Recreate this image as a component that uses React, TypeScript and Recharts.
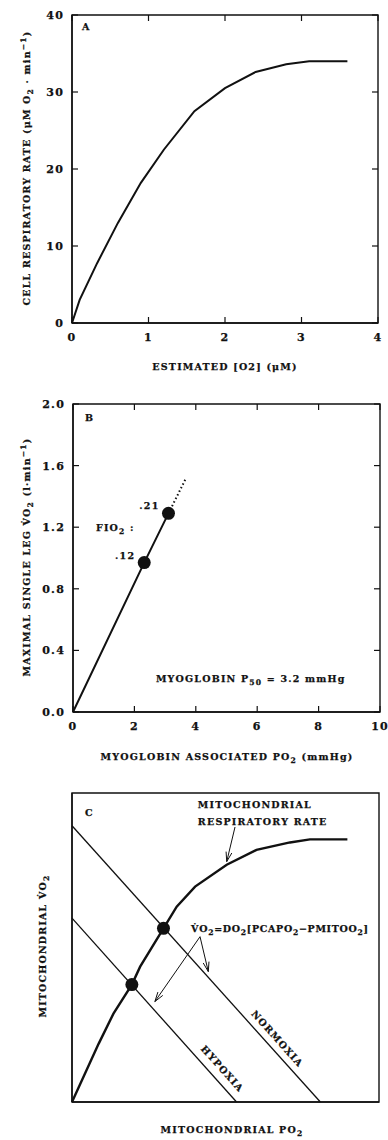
import React from 'react'
import { ComposedChart, Line, Scatter, XAxis, YAxis, ReferenceDot, ReferenceLine, ReferenceArea, Label } from 'recharts'

// panel A: cell respiratory rate vs estimated O2
const aO2 = [0, 0.1, 0.33, 0.6, 0.9, 1.2, 1.6, 2.0, 2.4, 2.8, 3.1, 3.6]
const aRate = [0, 3, 7.8, 13, 18.2, 22.5, 27.5, 30.5, 32.6, 33.6, 34.0, 34.0]
const aXTicks = [0, 1, 2, 3, 4]
const aYTicks = [0, 10, 20, 30, 40]

// panel B: leg VO2 vs myoglobin PO2
const bLinePo2 = [0, 2.32, 3.11]
const bLineVo2 = [0, 0.97, 1.29]
const bExtPo2 = [3.11, 3.66]
const bExtVo2 = [1.29, 1.51]
const bDotPo2 = [2.32, 3.11]
const bDotVo2 = [0.97, 1.29]
const bFio2 = ['.12', '.21']
const bXTicks = [0, 2, 4, 6, 8, 10]
const bYTicks = [0, 0.4, 0.8, 1.2, 1.6, 2.0]

// panel C: schematic, arbitrary units
const cCurvePo2 = [0, 0.87, 1.35, 1.95, 2.22, 2.98, 3.41, 4.01, 5.04, 6.01, 7.1, 7.75, 8.97]
const cCurveVo2 = [0, 1.89, 2.86, 3.8, 4.38, 5.62, 6.32, 6.97, 7.68, 8.16, 8.4, 8.5, 8.5]
const cNormPo2 = [0, 8.09]
const cNormVo2 = [8.94, 0]
const cHypoPo2 = [0, 5.36]
const cHypoVo2 = [5.95, 0]
const cDotPo2 = [1.95, 2.98]
const cDotVo2 = [3.8, 5.62]
const cArrowFromPo2 = [5.31, 4.17, 4.17]
const cArrowFromVo2 = [8.9, 5.35, 5.35]
const cArrowToPo2 = [5.04, 4.44, 2.7]
const cArrowToVo2 = [7.78, 4.22, 3.25]

const FONT = '"DejaVu Serif", "Liberation Serif", serif'
const INK = '#111'
const TICK = 6
const AXIS = { stroke: INK, strokeWidth: 1.4 }
const TS = 9.5 // title font size

const rows = (xs: number[], ys: number[]) => xs.map((x, i) => ({ x, y: ys[i] }))

type Part = string | [string, 'sub' | 'sup']

// text with sub/superscripts as tspans
function rich(parts: Part[], size = TS) {
  let shift = 0
  return parts.map((p, i) => {
    if (typeof p === 'string') {
      const el = <tspan key={i} dy={-shift} fontSize={size}>{p}</tspan>
      shift = 0
      return el
    }
    const s = p[1] === 'sub' ? 3 : -4
    const el = <tspan key={i} dy={s - shift} fontSize={size * 0.8}>{p[0]}</tspan>
    shift = s
    return el
  })
}

const txt = { fontFamily: FONT, fontWeight: 700, fill: INK, stroke: INK, strokeWidth: 0.25 } as const

const hTitle = (x: number, y: number, parts: Part[]) => () => (
  <text x={x} y={y} textAnchor="middle" fontSize={TS} letterSpacing={1.2} {...txt}>{rich(parts)}</text>
)
const vTitle = (x: number, y: number, parts: Part[]) => () => (
  <text x={x} y={y} transform={`rotate(-90 ${x} ${y})`} textAnchor="middle" fontSize={TS} letterSpacing={1.2} {...txt}>
    {rich(parts)}
  </text>
)

const bottomTick = (fmt: (v: number) => string) => (p: any) => (
  <text x={p.x} y={p.y + 18} textAnchor="middle" fontSize={11} letterSpacing={1.2} {...txt}>{fmt(p.payload.value)}</text>
)
const leftTick = (fmt: (v: number) => string) => (p: any) => (
  <text x={p.x - 8} y={p.y + 4} textAnchor="end" fontSize={11} letterSpacing={1.2} {...txt}>{fmt(p.payload.value)}</text>
)

// inward tick marks at both ends of a full-height / full-width reference line
const tickPair = (p: any) => {
  const { x1, y1, x2, y2 } = p
  const len = Math.hypot(x2 - x1, y2 - y1) || 1
  const ux = ((x2 - x1) / len) * TICK
  const uy = ((y2 - y1) / len) * TICK
  return (
    <g>
      <line x1={x1} y1={y1} x2={x1 + ux} y2={y1 + uy} stroke={INK} strokeWidth={1.2} />
      <line x1={x2} y1={y2} x2={x2 - ux} y2={y2 - uy} stroke={INK} strokeWidth={1.2} />
    </g>
  )
}

// annotation text placed at a data point
const note = (
  parts: Part[],
  opts: { anchor?: string; dx?: number; dy?: number; rotate?: number; spacing?: number } = {}
) => (p: any) => {
  const x = p.cx + (opts.dx || 0)
  const y = p.cy + (opts.dy || 0)
  return (
    <text
      x={x}
      y={y}
      textAnchor={opts.anchor || 'start'}
      transform={opts.rotate ? `rotate(${opts.rotate} ${x} ${y})` : undefined}
      fontSize={TS}
      letterSpacing={opts.spacing ?? 1.2}
      {...txt}
    >
      {rich(parts)}
    </text>
  )
}

const bigDot = (p: any) => <circle cx={p.cx} cy={p.cy} r={6.5} fill={INK} />

const arrow = (p: any) => {
  const { x1, y1, x2, y2 } = p
  const a = Math.atan2(y2 - y1, x2 - x1)
  const L = 10
  const w = 0.3
  const ax = x2 - L * Math.cos(a - w)
  const ay = y2 - L * Math.sin(a - w)
  const bx = x2 - L * Math.cos(a + w)
  const by = y2 - L * Math.sin(a + w)
  return (
    <g>
      <line x1={x1} y1={y1} x2={x2} y2={y2} stroke={INK} strokeWidth={1} />
      <polyline points={`${ax},${ay} ${x2},${y2} ${bx},${by}`} fill="none" stroke={INK} strokeWidth={1} />
    </g>
  )
}

const frame = (xMax: number, yMax: number) => (
  <ReferenceArea xAxisId="b" yAxisId="l" x1={0} x2={xMax} y1={0} y2={yMax} fill="none" stroke={INK} strokeWidth={1.4}
    ifOverflow="visible" />
)

function PanelA() {
  return (
    <ComposedChart width={388} height={376} margin={{ top: 15, right: 10, bottom: 0, left: 0 }}>
      <XAxis xAxisId="b" dataKey="x" type="number" domain={[0, 4]} ticks={aXTicks} interval={0} tickSize={0} tickMargin={0}
        height={53} axisLine={AXIS} tickLine={false} tick={bottomTick(String)}>
        <Label content={hTitle(225, 370, ['ESTIMATED [O2] (μM)'])} />
      </XAxis>
      <YAxis yAxisId="l" dataKey="y" type="number" domain={[0, 40]} ticks={aYTicks} interval={0} tickSize={0} tickMargin={0}
        width={72} axisLine={AXIS} tickLine={false} tick={leftTick(String)}>
        <Label content={vTitle(30, 168, ['CELL RESPIRATORY RATE (μM O', ['2', 'sub'], ' · min', ['−1', 'sup'], ')'])} />
      </YAxis>
      {frame(4, 40)}
      {aXTicks.map((v) => (
        <ReferenceLine key={'x' + v} xAxisId="b" yAxisId="l" x={v} shape={tickPair} />
      ))}
      {aYTicks.map((v) => (
        <ReferenceLine key={'y' + v} xAxisId="b" yAxisId="l" y={v} shape={tickPair} />
      ))}
      <Line xAxisId="b" yAxisId="l" data={rows(aO2, aRate)} dataKey="y" type="linear" stroke={INK} strokeWidth={2}
        dot={false} isAnimationActive={false} />
      <ReferenceDot xAxisId="b" yAxisId="l" x={0.13} y={38.05} r={0} shape={note(['A'])} ifOverflow="visible" />
    </ComposedChart>
  )
}

function PanelB() {
  return (
    <ComposedChart width={388} height={390} margin={{ top: 28, right: 8, bottom: 0, left: 0 }}>
      <XAxis xAxisId="b" dataKey="x" type="number" domain={[0, 10]} ticks={bXTicks} interval={0} tickSize={0} tickMargin={0}
        height={54} axisLine={AXIS} tickLine={false} tick={bottomTick(String)}>
        <Label content={hTitle(227, 384, ['MYOGLOBIN ASSOCIATED PO', ['2', 'sub'], ' (mmHg)'])} />
      </XAxis>
      <YAxis yAxisId="l" dataKey="y" type="number" domain={[0, 2]} ticks={bYTicks} interval={0} tickSize={0} tickMargin={0}
        width={73} axisLine={AXIS} tickLine={false} tick={leftTick((v) => v.toFixed(1))}>
        <Label content={vTitle(30, 181, ['MAXIMAL SINGLE LEG V̇O', ['2', 'sub'], ' (l·min', ['−1', 'sup'], ')'])} />
      </YAxis>
      {frame(10, 2)}
      {bXTicks.map((v) => (
        <ReferenceLine key={'x' + v} xAxisId="b" yAxisId="l" x={v} shape={tickPair} />
      ))}
      {bYTicks.map((v) => (
        <ReferenceLine key={'y' + v} xAxisId="b" yAxisId="l" y={v} shape={tickPair} />
      ))}
      <Line xAxisId="b" yAxisId="l" data={rows(bLinePo2, bLineVo2)} dataKey="y" type="linear" stroke={INK} strokeWidth={2}
        dot={false} isAnimationActive={false} />
      <Line xAxisId="b" yAxisId="l" data={rows(bExtPo2, bExtVo2)} dataKey="y" type="linear" stroke={INK} strokeWidth={2}
        strokeDasharray="1.5 2.5" dot={false} isAnimationActive={false} />
      <Scatter xAxisId="b" yAxisId="l" data={rows(bDotPo2, bDotVo2)} dataKey="y" shape={bigDot} isAnimationActive={false} />
      {bFio2.map((t, i) => (
        <ReferenceDot key={t} xAxisId="b" yAxisId="l" x={bDotPo2[i]} y={bDotVo2[i]} r={0}
          shape={note([t], { anchor: 'end', dx: -9, dy: -4 })} ifOverflow="visible" />
      ))}
      <ReferenceDot xAxisId="b" yAxisId="l" x={0.39} y={1.89} r={0} shape={note(['B'])} ifOverflow="visible" />
      <ReferenceDot xAxisId="b" yAxisId="l" x={0.75} y={1.175} r={0} shape={note(['FIO', ['2', 'sub'], ' :'])} ifOverflow="visible" />
      <ReferenceDot xAxisId="b" yAxisId="l" x={2.7} y={0.195} r={0}
        shape={note(['MYOGLOBIN P', ['50', 'sub'], ' = 3.2 mmHg'])} ifOverflow="visible" />
    </ComposedChart>
  )
}

function PanelC() {
  return (
    <ComposedChart width={388} height={374} margin={{ top: 27, right: 9, bottom: 0, left: 0 }}>
      <XAxis xAxisId="b" dataKey="x" type="number" domain={[0, 10]} height={38} axisLine={AXIS} tickLine={false} tick={false}>
        <Label content={hTitle(232, 367, ['MITOCHONDRIAL PO', ['2', 'sub']])} />
      </XAxis>
      <YAxis yAxisId="l" dataKey="y" type="number" domain={[0, 10]} width={72} axisLine={AXIS} tickLine={false} tick={false}>
        <Label content={vTitle(46, 180, ['MITOCHONDRIAL V̇O', ['2', 'sub']])} />
      </YAxis>
      {frame(10, 10)}
      <Line xAxisId="b" yAxisId="l" data={rows(cNormPo2, cNormVo2)} dataKey="y" type="linear" stroke={INK} strokeWidth={1.3}
        dot={false} isAnimationActive={false} />
      <Line xAxisId="b" yAxisId="l" data={rows(cHypoPo2, cHypoVo2)} dataKey="y" type="linear" stroke={INK} strokeWidth={1.3}
        dot={false} isAnimationActive={false} />
      <Line xAxisId="b" yAxisId="l" data={rows(cCurvePo2, cCurveVo2)} dataKey="y" type="linear" stroke={INK} strokeWidth={2.4}
        dot={false} isAnimationActive={false} />
      <Scatter xAxisId="b" yAxisId="l" data={rows(cDotPo2, cDotVo2)} dataKey="y" shape={bigDot} isAnimationActive={false} />
      {cArrowFromPo2.map((x, i) => (
        <ReferenceLine key={i} xAxisId="b" yAxisId="l"
          segment={[{ x, y: cArrowFromVo2[i] }, { x: cArrowToPo2[i], y: cArrowToVo2[i] }]} shape={arrow} />
      ))}
      <ReferenceDot xAxisId="b" yAxisId="l" x={0.42} y={9.26} r={0} shape={note(['C'])} ifOverflow="visible" />
      <ReferenceDot xAxisId="b" yAxisId="l" x={4.1} y={9.51} r={0} shape={note(['MITOCHONDRIAL'])} ifOverflow="visible" />
      <ReferenceDot xAxisId="b" yAxisId="l" x={4.1} y={8.96} r={0} shape={note(['RESPIRATORY RATE'])} ifOverflow="visible" />
      <ReferenceDot xAxisId="b" yAxisId="l" x={3.88} y={5.51} r={0}
        shape={note(['V̇O', ['2', 'sub'], '=DO', ['2', 'sub'], '[PCAPO', ['2', 'sub'], '−PMITOO', ['2', 'sub'], ']'], { spacing: 0.7 })}
        ifOverflow="visible" />
      <ReferenceDot xAxisId="b" yAxisId="l" x={6.61} y={2.07} r={0}
        shape={note(['NORMOXIA'], { anchor: 'middle', dy: 3, rotate: 48 })} ifOverflow="visible" />
      <ReferenceDot xAxisId="b" yAxisId="l" x={4.82} y={1.1} r={0}
        shape={note(['HYPOXIA'], { anchor: 'middle', dy: 3, rotate: 48 })} ifOverflow="visible" />
    </ComposedChart>
  )
}

export default function App() {
  return (
    <div style={{ position: 'absolute', left: 0, top: 0, width: 388, height: 1140, background: '#fff' }}>
      <div style={{ position: 'absolute', left: 0, top: 0 }}><PanelA /></div>
      <div style={{ position: 'absolute', left: 0, top: 376 }}><PanelB /></div>
      <div style={{ position: 'absolute', left: 0, top: 766 }}><PanelC /></div>
    </div>
  )
}
